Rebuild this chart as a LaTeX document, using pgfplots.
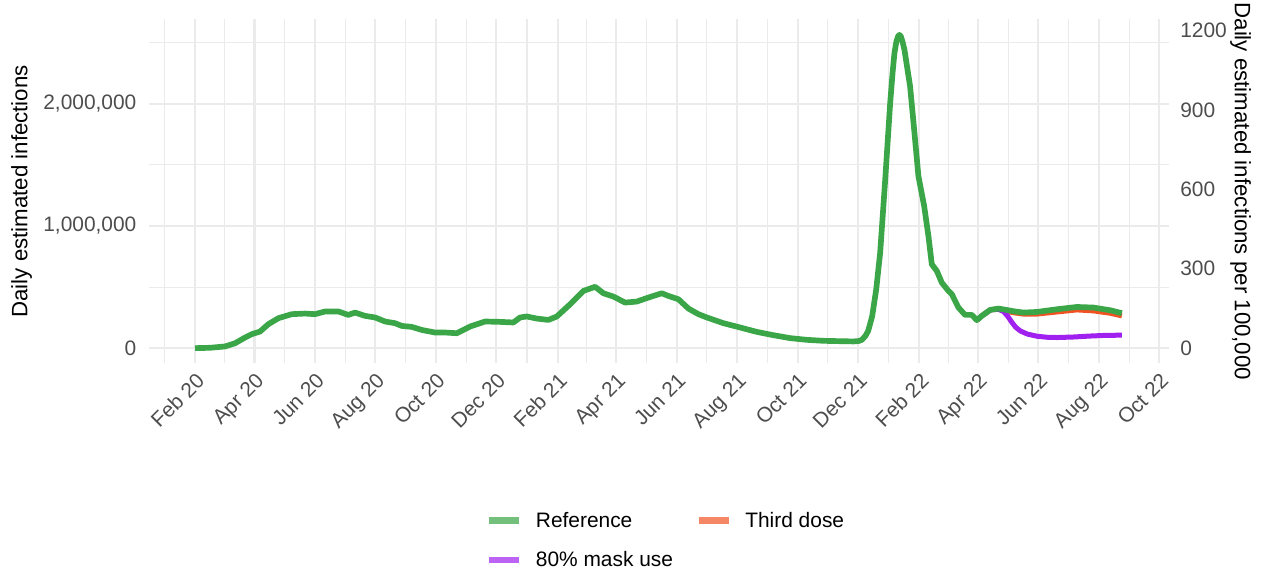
\documentclass[border=0pt]{standalone}
\usepackage{fontspec}
\setmainfont{Liberation Sans}
\usepackage{pgfplots}
\pgfplotsset{compat=1.18}
\definecolor{refgreen}{RGB}{58,166,72}
\definecolor{dosered}{RGB}{240,82,36}
\definecolor{maskpurple}{RGB}{160,32,240}
\definecolor{legreen}{RGB}{115,192,125}
\definecolor{lered}{RGB}{245,134,102}
\definecolor{lepurple}{RGB}{189,99,244}
\definecolor{gridgrey}{RGB}{235,235,235}
\definecolor{ticktext}{RGB}{77,77,77}
\newcommand{\tickfont}{\fontsize{9.2}{11}\selectfont}
\newcommand{\titlefont}{\fontsize{9.8}{12}\selectfont}
\begin{document}
\begin{tikzpicture}
\path[use as bounding box] (-65.4pt,-92.7pt) rectangle (490.3pt,159.9pt);
\begin{axis}[
  scale only axis, width=449pt, height=151.4pt,
  xmin=-46.8, xmax=983, ymin=-125000, ymax=2690000,
  xtick={0,60,121,182,243,304,366,425,486,547,608,669,731,790,851,912,973},
  xticklabels={Feb 20,Apr 20,Jun 20,Aug 20,Oct 20,Dec 20,Feb 21,Apr 21,Jun 21,Aug 21,Oct 21,Dec 21,Feb 22,Apr 22,Jun 22,Aug 22,Oct 22},
  minor xtick={-30.5,30,90.5,151.5,212.5,273.5,335,395.5,455.5,516.5,577.5,638.5,700,760.5,820.5,881.5,942.5},
  ytick={0,1000000,2000000},
  yticklabels={0,{1,000,000},{2,000,000}},
  minor ytick={500000,1500000,2500000},
  grid=both,
  major grid style={draw=gridgrey, line width=0.9pt},
  minor grid style={draw=gridgrey, line width=0.45pt},
  axis line style={draw=none},
  major tick length=0pt, minor tick length=0pt,
  tick style={draw=none},
  scaled y ticks=false,
  tick label style={font=\tickfont, text=ticktext},
  xticklabel style={yshift=-3.5pt, xshift=0pt, rotate=45, anchor=north east, inner sep=0pt},
  yticklabel style={anchor=east, inner sep=0pt, xshift=-5.2pt},
  ylabel={Daily estimated infections},
  every axis y label/.style={at={(rel axis cs:0,0.5)}, xshift=-55.9pt, rotate=90, anchor=center, font=\titlefont},
  legend columns=2,
  legend cell align=left,
  legend image code/.code={\draw[#1, line width=3pt] (0pt,0.5pt) -- (13.2pt,0.5pt);},
  legend style={at={(rel axis cs:0.506,-0.517)}, anchor=center, draw=none, fill=none,
    font=\tickfont, inner sep=0pt, row sep=9.2pt,
    nodes={inner sep=0pt},
    /tikz/every odd column/.append style={column sep=5.8pt},
    /tikz/every even column/.append style={column sep=9.8pt}},
]
\addlegendimage{color=legreen}
\addlegendentry{Reference}
\addlegendimage{color=lered}
\addlegendentry{Third dose}
\addlegendimage{color=lepurple}
\addlegendentry{80\% mask use}

% Third dose scenario
\addplot[forget plot, color=dosered, line width=2.2pt, line join=round] coordinates {
(788.9,229000)(794.0,264000)(802.4,313000)(810.8,320000)(815.8,305000)(827.6,288000)(836.0,279000)(849.5,279000)(869.7,296000)(889.9,313000)(906.7,305000)(923.5,286000)(935.3,264000)
};
% 80% mask use scenario
\addplot[forget plot, color=maskpurple, line width=2.2pt, line join=round] coordinates {
(788.9,229000)(794.0,264000)(802.4,313000)(810.8,318000)(815.8,300000)(820,262000)(824,215000)(828,172000)(833,140000)(840,115000)(850,97000)(860,89000)(870,87000)(886,91000)(903,99000)(920,105000)(935.3,106000)
};
% Reference
\addplot[forget plot, color=refgreen, line width=2.5pt, line join=round] coordinates {
(0,0)(15.1,3000)(30.3,14000)(40.4,40000)(50.5,87000)(57.2,114000)(65.6,136000)(74.0,196000)(84.1,245000)(97.6,278000)
(111.0,283000)(121.1,278000)(131.2,300000)(144.6,300000)(154.7,272000)(161.5,291000)(171.6,264000)(181.7,251000)
(191.8,218000)(201.9,204000)(208.6,182000)(218.7,174000)(228.8,149000)(242.2,128000)(252.3,128000)(264.1,122000)
(277.6,177000)(292.7,218000)(307.8,215000)(321.3,210000)(328.0,251000)(334.8,259000)(344.9,242000)(356.6,231000)
(365.1,259000)(378.5,359000)(391.9,468000)(403.7,502000)(412.1,449000)(422.2,422000)(434.0,373000)(445.8,381000)
(457.5,414000)(471.0,449000)(477.7,427000)(487.8,400000)(497.9,324000)(508.0,278000)(516.5,251000)(533.3,204000)
(550.1,169000)(566.9,133000)(583.7,106000)(600.5,82000)(617.4,68000)(634.1,60000)(651.0,57000)(664.4,55000)
(669.5,58000)(672.9,68000)(676.5,100000)(679.3,141000)(683.3,260000)(687.4,480000)(691.4,781000)(696.5,1380000)(701.5,2006000)(704.0,2260000)(705.8,2414000)
(707.8,2510000)(709.5,2552000)(710.8,2563000)(712.3,2550000)(714.0,2505000)(715.9,2441000)(721.6,2141000)(726.0,1761000)(730.0,1407000)(735.8,1162000)(740.1,917000)(743.5,686000)
(748.6,631000)(753.6,536000)(760.3,468000)(763.7,441000)(770.4,332000)(777.1,272000)(783.9,272000)(788.9,229000)
(794.0,264000)(802.4,313000)(810.8,324000)(819.2,312000)(827.6,300000)(836.0,291000)(849.5,296000)(869.7,318000)
(889.9,337000)(906.7,332000)(923.5,310000)(935.3,286000)
};
\end{axis}
\begin{axis}[
  scale only axis, width=449pt, height=151.4pt,
  xmin=-46.8, xmax=983, ymin=-57.8, ymax=1243.1,
  axis x line=none,
  axis y line*=right,
  axis line style={draw=none},
  major tick length=0pt, minor tick length=0pt,
  tick style={draw=none},
  ytick={0,300,600,900,1200},
  yticklabels={0,300,600,900,1200},
  yticklabel style={anchor=west, inner sep=0pt, xshift=4.7pt, font=\tickfont, text=ticktext},
  ylabel={Daily estimated infections per 100,000},
  every axis y label/.style={at={(rel axis cs:1,0.5)}, xshift=31.5pt, rotate=-90, anchor=center, font=\titlefont},
]
\end{axis}
\end{tikzpicture}
\end{document}
